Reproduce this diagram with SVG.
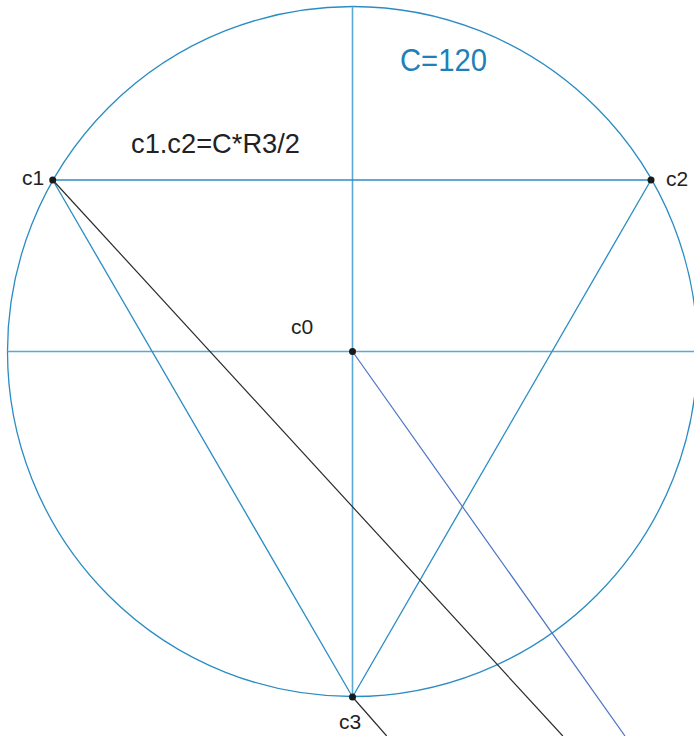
<svg xmlns="http://www.w3.org/2000/svg" width="694" height="736" viewBox="0 0 694 736">
<style>
.geo{fill:none;stroke:#2a8cc4;stroke-width:1.3}
.axis{fill:none;stroke:#5aa8d6;stroke-width:1.6}
.blk{fill:none;stroke:#2b2b2b;stroke-width:1.2}
.blu{fill:none;stroke:#4a72c6;stroke-width:1.2}
.dot{fill:#1a1a1a}
.lbl{font-family:"Liberation Sans",Arial,sans-serif;font-size:21px;fill:#222}
</style>
<rect width="694" height="736" fill="#ffffff"/>
<g id="connectors">
<circle class="geo" cx="352.5" cy="351.5" r="345"/>
<line class="axis" x1="352.5" y1="6.5" x2="352.5" y2="697"/>
<line class="axis" x1="7.5" y1="351.5" x2="694" y2="351.5"/>
<line class="geo" x1="52.7" y1="180" x2="651" y2="180"/>
<line class="geo" x1="52.7" y1="180" x2="352.5" y2="697"/>
<line class="geo" x1="651" y1="180" x2="352.5" y2="697"/>
<line class="blk" x1="52.7" y1="180" x2="562.8" y2="736"/>
<line class="blk" x1="352.5" y1="697" x2="386.7" y2="736"/>
<line class="blu" x1="352.5" y1="351.5" x2="625" y2="736"/>
</g>
<g id="c1"><circle class="dot" cx="52.7" cy="180" r="3.5"/><text class="lbl" x="22" y="184.5">c1</text></g>
<g id="c2"><circle class="dot" cx="651" cy="180" r="3.5"/><text class="lbl" x="666" y="186">c2</text></g>
<g id="c0"><circle class="dot" cx="352.5" cy="351.5" r="3.5"/><text class="lbl" x="291" y="334">c0</text></g>
<g id="c3"><circle class="dot" cx="352.5" cy="697" r="3.5"/><text class="lbl" x="339" y="728.5">c3</text></g>
<g id="labels">
<text x="400" y="70.5" font-family="'Liberation Sans',Arial,sans-serif" font-size="31" fill="#1f80b8" textLength="87" lengthAdjust="spacingAndGlyphs">C=120</text>
<text x="131" y="153.3" font-family="'Liberation Sans',Arial,sans-serif" font-size="28.5" fill="#222" textLength="169" lengthAdjust="spacingAndGlyphs">c1.c2=C*R3/2</text>
</g>
</svg>
